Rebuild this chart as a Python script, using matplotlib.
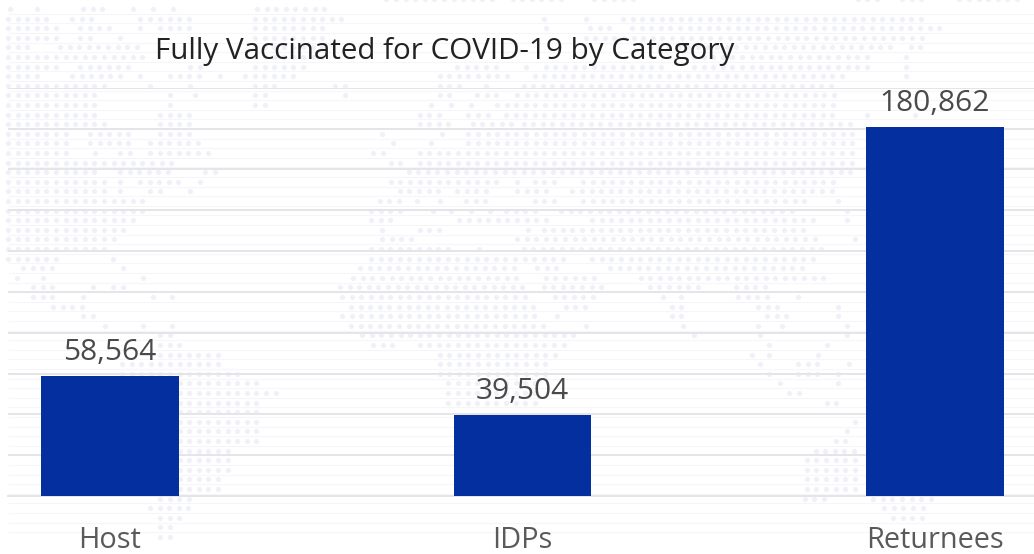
import matplotlib
matplotlib.use("Agg")
import matplotlib.pyplot as plt
from matplotlib.ticker import MultipleLocator

categories = ["Host", "IDPs", "Returnees"]
values = [58564, 39504, 180862]
value_labels = ["58,564", "39,504", "180,862"]
title = "Fully Vaccinated for COVID-19 by Category"

# Decorative dotted world map: row index -> (start, end) runs in pixels (left part)
map_left = {
    0: [(10, 12), (37, 47), (83, 113), (133, 135), (153, 155), (173, 175), (257, 337)],
    1: [(8, 60), (72, 105), (140, 155), (160, 195), (255, 350)],
    2: [(8, 70), (80, 115), (140, 150), (160, 195), (255, 330)],
    3: [(8, 70), (80, 100), (120, 130), (255, 330)],
    4: [(8, 40), (60, 150), (255, 330)],
    5: [(8, 150), (255, 330)],
    6: [(8, 70), (80, 135), (190, 205), (255, 310)],
    7: [(8, 50), (72, 125), (140, 150), (170, 205), (220, 222), (245, 300)],
    8: [(8, 115), (150, 152), (190, 200), (255, 280), (335, 355)],
    9: [(8, 105), (170, 172), (195, 200), (255, 270), (345, 347)],
    10: [(8, 105), (170, 180), (255, 270)],
    11: [(8, 105), (160, 200)],
    12: [(8, 115), (160, 200)],
    13: [(8, 75), (90, 135), (160, 200)],
    14: [(8, 75), (90, 135), (150, 210)],
    15: [(8, 75), (95, 97), (120, 135), (150, 220)],
    16: [(8, 180)],
    17: [(8, 105), (120, 180), (205, 225)],
    18: [(8, 110), (120, 125), (140, 185), (200, 202)],
    19: [(8, 110), (120, 125), (150, 165), (190, 192)],
    20: [(8, 155)],
    21: [(8, 155)],
    22: [(8, 145)],
    23: [(8, 135)],
    24: [(8, 125)],
    25: [(8, 118)],
    26: [(8, 68), (113, 115)],
    27: [(23, 60), (123, 125)],
    28: [(17, 19), (43, 57), (143, 145)],
    29: [(33, 60), (93, 95), (113, 137)],
    30: [(33, 60), (83, 85), (153, 155), (172, 174)],
    31: [(53, 87)],
    32: [(83, 107)],
    33: [(105, 107), (143, 145), (172, 174)],
    34: [(160, 183)],
    35: [(160, 193)],
    36: [(160, 223)],
    37: [(122, 223)],
    38: [(122, 243)],
    39: [(122, 270)],
    40: [(122, 282)],
    41: [(122, 270)],
    42: [(122, 262)],
    43: [(122, 262)],
    44: [(122, 262)],
    45: [(122, 262)],
    46: [(122, 240)],
    47: [(122, 233)],
    48: [(122, 233)],
    49: [(122, 223)],
    50: [(122, 223)],
    51: [(160, 202)],
    52: [(150, 202)],
    53: [(160, 193)],
    54: [(160, 183)],
    55: [(160, 183)],
}
map_right = {
    -1: [(105, 360), (390, 520), (575, 690), (1170, 1230), (1270, 1340), (1400, 1560)],
    1: [(460, 462), (555, 557), (640, 1340)],
    2: [(465, 467), (565, 630), (660, 1370)],
    3: [(555, 1330)],
    4: [(700, 1260), (1290, 1330)],
    5: [(800, 1220), (1280, 1282)],
    6: [(265, 370), (420, 440), (465, 750), (800, 1220), (1280, 1282)],
    7: [(225, 390), (440, 1155), (1280, 1300)],
    8: [(225, 280), (330, 350), (415, 1135)],
    9: [(225, 260), (310, 370), (400, 1135)],
    10: [(205, 207), (250, 252), (295, 297), (355, 1135)],
    11: [(180, 240), (290, 350), (375, 1135), (1190, 1192), (1300, 1302)],
    12: [(180, 260), (300, 400), (415, 1185)],
    13: [(95, 97), (230, 232), (290, 1185)],
    14: [(120, 122), (205, 207), (290, 1185)],
    15: [(75, 125), (180, 1185)],
    16: [(115, 150), (180, 1185)],
    17: [(155, 1185)],
    18: [(115, 370), (400, 415), (440, 500), (550, 1135)],
    19: [(135, 240), (265, 350), (400, 480), (525, 1135)],
    20: [(90, 155), (175, 177), (225, 227), (285, 350), (440, 500), (550, 1065), (1125, 1127)],
    21: [(70, 155), (210, 212), (250, 252), (295, 297), (340, 342), (375, 460), (500, 1045), (1145, 1147)],
    22: [(70, 130), (270, 480), (570, 1090), (1145, 1147)],
    23: [(95, 97), (180, 255), (425, 427), (460, 1070)],
    24: [(95, 175), (400, 1090), (1165, 1167)],
    25: [(70, 260), (315, 317), (415, 1110)],
    26: [(70, 520), (570, 1090)],
    27: [(45, 410), (445, 520), (610, 1070)],
    28: [(30, 410), (465, 590), (680, 1110)],
    29: [(0, 440), (460, 610), (700, 830), (895, 980)],
    30: [(5, 435), (485, 585), (730, 732), (770, 800), (900, 980), (1035, 1037)],
    31: [(25, 455), (510, 565), (750, 785), (945, 1000), (1125, 1127)],
    32: [(5, 455), (490, 492), (750, 785), (965, 1020), (1125, 1127)],
    33: [(25, 475), (555, 557), (775, 777), (945, 947), (1000, 1020), (1145, 1147)],
    34: [(50, 545), (800, 802), (950, 952), (1145, 1175)],
    35: [(75, 130), (180, 525), (970, 972), (1100, 1102)],
    36: [(225, 500), (930, 932), (970, 972), (1080, 1082)],
    37: [(225, 475), (950, 975), (1035, 1090), (1150, 1152)],
    38: [(225, 475), (970, 1000), (1035, 1090), (1125, 1127)],
    39: [(245, 455), (995, 997), (1125, 1127)],
    40: [(245, 455), (1015, 1065)],
    41: [(245, 455), (1100, 1150)],
    43: [(1165, 1167)],
    44: [(1145, 1165)],
    45: [(1120, 1170)],
    46: [(1075, 1175)],
    47: [(1055, 1175)],
    48: [(1055, 1175)],
    49: [(1055, 1175)],
    50: [(1055, 1175)],
    51: [(1050, 1110), (1205, 1350)],
    52: [(1230, 1330)],
    53: [(1250, 1330)],
}

W, H = 1034, 554
fig = plt.figure(figsize=(W / 100, H / 100), dpi=100, facecolor="white")
plt.rcParams["font.family"] = ["Open Sans", "DejaVu Sans"]

bg = fig.add_axes([0, 0, 1, 1], zorder=0)
bg.set_xlim(0, W)
bg.set_ylim(H, 0)
bg.axis("off")
ROW0, STEP = 9.0, 9.6
xs, ys = [], []
for rows, conv in ((map_left, lambda v: v), (map_right, lambda v: 340 + v / 2.26)):
    for k, runs in rows.items():
        for a, b in runs:
            a, b = conv(a), conv(b)
            n = max(1, int(round((b - a) / STEP)))
            for i in range(n):
                xs.append(a + i * STEP)
                ys.append(ROW0 + k * STEP)
bg.scatter(xs, ys, s=14, color="#f0f1f8", linewidths=0)
bg.hlines([ROW0 + k * STEP + 4.8 for k in range(55)], 8, W, color="#f6f6f8", lw=0.8)

top, bottom = 87.8, 496.0
left, right = 8.0, 1034.0
ax = fig.add_axes([left / W, 1 - bottom / H, (right - left) / W, (bottom - top) / H], zorder=1)
ax.patch.set_alpha(0)
pos = list(range(len(categories)))
ax.bar(pos, values, width=0.3345, color="#03309e", zorder=3)
ax.set_xlim(-0.2473, 2.24)
ax.set_ylim(0, 200000)
ax.yaxis.set_major_locator(MultipleLocator(20000))
ax.grid(axis="y", color="#e5e5e9", lw=1.4, zorder=1)
ax.set_axisbelow(True)
ax.tick_params(axis="y", left=False, labelleft=False)
ax.tick_params(axis="x", bottom=False, pad=18, labelsize=20.8, labelcolor="#5a5a5a")
ax.set_xticks(pos)
ax.set_xticklabels(categories)
for side in ("top", "right", "left"):
    ax.spines[side].set_visible(False)
ax.spines["bottom"].set_color("#e5e5e9")
ax.spines["bottom"].set_linewidth(1.4)
for p, v, lab in zip(pos, values, value_labels):
    ax.annotate(lab, (p, v), xytext=(0, 11.5), textcoords="offset points", ha="center",
                va="baseline", fontsize=21.5, color="#4a4a4a", zorder=4)
fig.text(445 / W, 1 - 52 / H, title, ha="center", va="center", fontsize=21.3, color="#222222", zorder=5)
fig.savefig("out.png", dpi=100)
